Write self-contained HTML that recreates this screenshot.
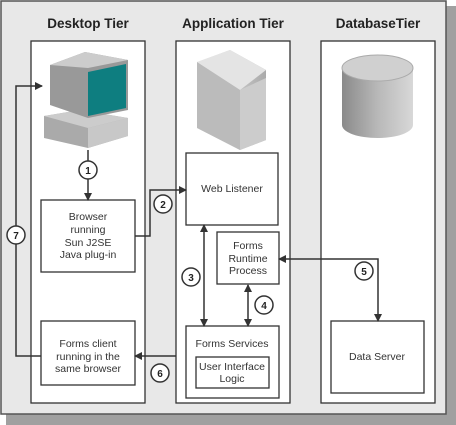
<!DOCTYPE html>
<html><head><style>body{margin:0;background:#fff}svg{display:block}text{font-family:"Liberation Sans",sans-serif}</style></head><body>
<svg width="456" height="425" viewBox="0 0 456 425" xmlns="http://www.w3.org/2000/svg">
<defs>
<linearGradient id="cyl" x1="0" x2="1"><stop offset="0" stop-color="#8a8a8a"/><stop offset="0.5" stop-color="#b8b8b8"/><stop offset="1" stop-color="#d8d8d8"/></linearGradient>
<linearGradient id="srv" x1="0" x2="1"><stop offset="0" stop-color="#eee"/><stop offset="1" stop-color="#aaa"/></linearGradient>
<marker id="a" markerWidth="8" markerHeight="8" refX="7" refY="4" orient="auto" markerUnits="userSpaceOnUse"><path d="M0,0 L8,4 L0,8z" fill="#333"/></marker>
<marker id="s" markerWidth="8" markerHeight="8" refX="1" refY="4" orient="auto" markerUnits="userSpaceOnUse"><path d="M8,0 L0,4 L8,8z" fill="#333"/></marker>
</defs>
<rect x="6" y="6" width="450" height="419" fill="#a0a0a0"/>
<rect x="1" y="1" width="445" height="413" fill="#e8e8e8" stroke="#555" stroke-width="1.5"/>
<g font-weight="bold" font-size="13.5" text-anchor="middle" fill="#222">
<text x="88" y="28">Desktop Tier</text><text x="233" y="28">Application Tier</text><text x="378" y="28">DatabaseTier</text></g>
<g fill="#fff" stroke="#333" stroke-width="1.3">
<rect x="31" y="41" width="114" height="362"/><rect x="176" y="41" width="114" height="362"/><rect x="321" y="41" width="114" height="362"/>
<rect x="41" y="200" width="94" height="72"/><rect x="41" y="321" width="94" height="64"/>
<rect x="186" y="153" width="92" height="72"/><rect x="217" y="232" width="62" height="52"/>
<rect x="186" y="326" width="93" height="72"/><rect x="196" y="357" width="73" height="31"/>
<rect x="331" y="321" width="93" height="72"/></g>
<!-- computer -->
<path d="M44,116 L80,110 L128,118 L128,136 L88,148 L44,138z" fill="#aaa"/>
<path d="M88,128 L128,118 L128,136 L88,148z" fill="#c8c8c8"/>
<path d="M44,116 L80,110 L128,118 L88,128z" fill="#ccc"/>
<path d="M50,65 L85,52 L128,60 L128,110 L88,118 L50,105z" fill="#999"/>
<path d="M88,72 L126,64 L126,108 L88,116z" fill="#0e7e80"/>
<path d="M50,65 L85,52 L128,60 L88,68z" fill="#ccc"/>
<!-- server -->
<path d="M197,62 L230,50 L266,70 L266,140 L240,150 L197,128z" fill="url(#srv)"/>
<path d="M240,90 L266,78 L266,140 L240,150z" fill="#ccc"/>
<path d="M197,62 L230,50 L266,70 L240,90z" fill="#e4e4e4"/>
<path d="M197,62 L240,90 L240,150 L197,128z" fill="#bbb"/>
<!-- cylinder -->
<path d="M342,68 L342,125 A35.5,13 0 0 0 413,125 L413,68z" fill="url(#cyl)"/>
<ellipse cx="377.5" cy="68" rx="35.5" ry="13" fill="#d0d0d0" stroke="#aaa"/>
<g stroke="#333" stroke-width="1.5" fill="none">
<line x1="88" y1="150" x2="88" y2="200" marker-end="url(#a)"/>
<polyline points="135,236 150,236 150,190 186,190" marker-end="url(#a)"/>
<line x1="204" y1="225" x2="204" y2="326" marker-start="url(#s)" marker-end="url(#a)"/>
<line x1="248" y1="285" x2="248" y2="326" marker-start="url(#s)" marker-end="url(#a)"/>
<polyline points="279,259 378,259 378,321" marker-start="url(#s)" marker-end="url(#a)"/>
<line x1="176" y1="356" x2="135" y2="356" marker-end="url(#a)"/>
<polyline points="41,356 16,356 16,86 42,86" marker-end="url(#a)"/>
</g>
<g stroke="#333" stroke-width="1.5" fill="#fff">
<circle cx="88" cy="170" r="9"/><circle cx="163" cy="204" r="9"/><circle cx="191" cy="277" r="9"/><circle cx="264" cy="305" r="9"/><circle cx="364" cy="271" r="9"/><circle cx="160" cy="373" r="9"/><circle cx="16" cy="235" r="9"/></g>
<g font-size="10" font-weight="bold" text-anchor="middle" fill="#222">
<text x="88" y="174">1</text><text x="163" y="208">2</text><text x="191" y="281">3</text><text x="264" y="309">4</text><text x="364" y="275">5</text><text x="160" y="377">6</text><text x="16" y="239">7</text></g>
<g font-size="10.5" text-anchor="middle" fill="#333">
<text x="88" y="220">Browser</text><text x="88" y="233">running</text><text x="88" y="246">Sun J2SE</text><text x="88" y="258">Java plug-in</text>
<text x="88" y="347">Forms  client</text><text x="88" y="360">running in the</text><text x="88" y="372">same browser</text>
<text x="232" y="192">Web Listener</text>
<text x="248" y="249">Forms</text><text x="248" y="262">Runtime</text><text x="248" y="274">Process</text>
<text x="232" y="347">Forms Services</text>
<text x="232" y="370">User Interface</text><text x="232" y="382">Logic</text>
<text x="377" y="360">Data Server</text></g>
</svg>
</body></html>
